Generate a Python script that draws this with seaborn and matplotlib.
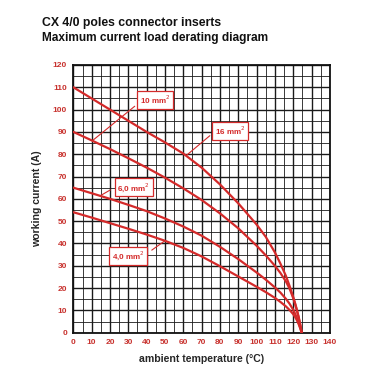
import numpy as np
import pandas as pd
import matplotlib
matplotlib.use("Agg")
import matplotlib.pyplot as plt
import seaborn as sns

# -----------------------------------
# Data
# -----------------------------------
x_16 = [0, 10, 20, 30, 40, 50, 60, 70, 80, 90, 100, 105, 110, 113, 116, 118, 120, 121, 122, 123, 124, 124.6]
y_16 = [110, 105, 100, 95, 90, 85.3, 80.3, 74, 66.5, 58, 48.5, 43, 36, 31, 25.5, 21, 16, 13.3, 10.3, 7, 3, 0]

x_10 = [0, 10, 20, 30, 40, 50, 60, 70, 80, 90, 100, 105, 110, 113, 116, 118, 120, 121, 122, 123, 124, 124.6]
y_10 = [90, 86.2, 82.3, 78.2, 74, 69.5, 64.7, 59.5, 53.5, 46.8, 39, 34.7, 30, 26.8, 23, 19.8, 15.5, 13, 10, 6.7, 3, 0]

x_6 = [0, 10, 20, 30, 40, 50, 60, 70, 80, 90, 100, 105, 110, 113, 116, 118, 120, 121, 122, 123, 124, 124.6]
y_6 = [65, 62.5, 60, 57.3, 54.5, 51.2, 47.6, 43.5, 38.5, 33, 27, 23.8, 20.3, 18, 15.2, 13, 10.3, 8.6, 6.6, 4.3, 1.8, 0]

x_4 = [0, 10, 20, 30, 40, 50, 60, 70, 80, 90, 100, 105, 110, 113, 116, 118, 120, 121, 122, 123, 124, 124.6]
y_4 = [54, 51.6, 49.1, 46.6, 44, 41.2, 38, 34.2, 29.8, 25.2, 20.6, 18.2, 15.6, 13.8, 11.8, 10.2, 8.3, 7.1, 5.6, 3.8, 1.6, 0]

labels = ["16 mm$^2$", "10 mm$^2$", "6,0 mm$^2$", "4,0 mm$^2$"]
label_xy = [(85.5, 90.5), (44.5, 104.3), (33, 65.2), (30, 34.5)]
leader_from = [(74.5, 88.3), (33.5, 101.5), (20.2, 64.0), (42.8, 37.0)]
leader_to = [(61.9, 79.6), (10.9, 86.4), (14.5, 61.3), (50.0, 41.2)]

x_ticks = list(range(0, 141, 10))
y_ticks = list(range(0, 121, 10))

RED = "#d42a2a"
TICK_RED = "#c8322e"

frames = []
for name, xs, ys in [("16", x_16, y_16), ("10", x_10, y_10), ("6", x_6, y_6), ("4", x_4, y_4)]:
    frames.append(pd.DataFrame({"temp": xs, "current": ys, "section": name}))
df = pd.concat(frames, ignore_index=True)

# -----------------------------------
# Plot
# -----------------------------------
sns.set_style("white")
plt.rcParams["font.family"] = ["Liberation Sans", "DejaVu Sans"]

fig = plt.figure(figsize=(3.8, 3.8), dpi=100)
ax = fig.add_axes([0.193, 0.1245, 0.675, 0.7045])

# grid every 5 units
for v in np.arange(0, 141, 5):
    ax.axvline(v, color="#1a1a1a", lw=1.0 if v % 10 == 0 else 0.6, zorder=1)
for v in np.arange(0, 121, 5):
    ax.axhline(v, color="#1a1a1a", lw=1.0 if v % 10 == 0 else 0.6, zorder=1)

sns.lineplot(data=df, x="temp", y="current", units="section", estimator=None,
             color=RED, lw=1.6, sort=False, ax=ax, zorder=3)

for text, (tx, ty), (fx, fy), (lx, ly) in zip(labels, label_xy, leader_from, leader_to):
    ax.plot([fx, lx], [fy, ly], color=RED, lw=0.8, zorder=4)
    ax.text(tx, ty, text, color=RED, fontsize=5.8, fontweight="bold",
            ha="center", va="center", zorder=5,
            bbox=dict(boxstyle="square,pad=0.35", fc="white", ec=RED, lw=0.9))

ax.set_xlim(0, 140)
ax.set_ylim(0, 120)
ax.set_xticks(x_ticks)
ax.set_yticks(y_ticks)
ax.tick_params(axis="both", labelsize=6, colors="#222222", length=3, width=0.8, pad=1.5)
for lab in ax.get_xticklabels() + ax.get_yticklabels():
    lab.set_color(TICK_RED)
    lab.set_fontweight("bold")
for s in ax.spines.values():
    s.set_color("#111111")
    s.set_linewidth(1.3)

ax.set_xlabel("ambient temperature (°C)", fontsize=7.6, fontweight="bold", labelpad=6)
ax.set_ylabel("working current (A)", fontsize=7.6, fontweight="bold", labelpad=8)

fig.text(0.11, 0.94, "CX 4/0 poles connector inserts", fontsize=8.8, fontweight="bold",
         ha="left", va="center", color="#111111")
fig.text(0.11, 0.9, "Maximum current load derating diagram", fontsize=8.6, fontweight="bold",
         ha="left", va="center", color="#111111")

fig.savefig("out.png", dpi=100)
plt.close(fig)
